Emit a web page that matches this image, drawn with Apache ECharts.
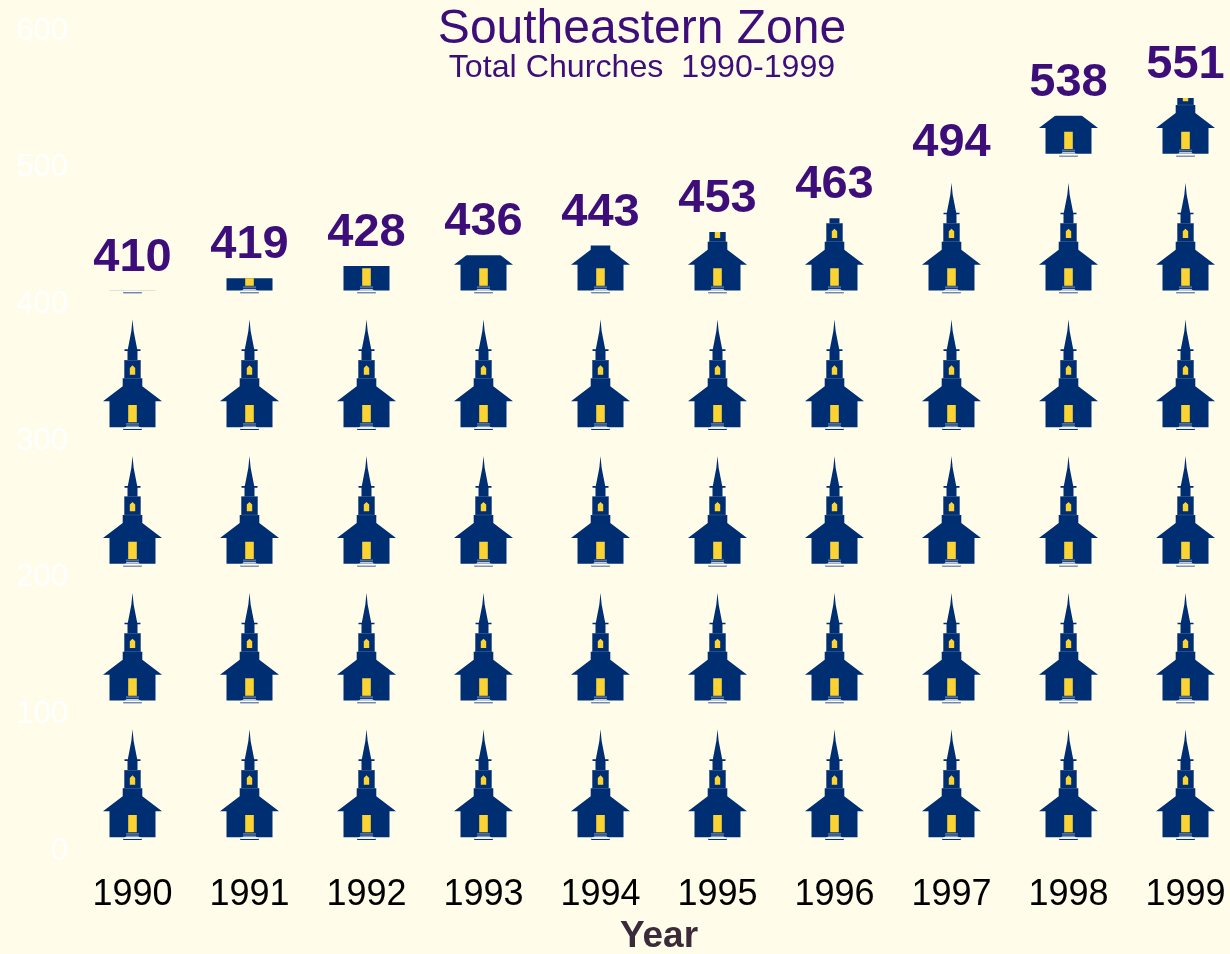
<!DOCTYPE html>
<html>
<head>
<meta charset="utf-8">
<style>html,body{margin:0;padding:0;background:#FFFDE9}#c{width:1230px;height:954px}</style>
<script src="https://cdn.jsdelivr.net/npm/echarts@6/dist/echarts.min.js"></script>
</head>
<body>
<div id="c"></div>
<script>
const years = ['1990','1991','1992','1993','1994','1995','1996','1997','1998','1999'];
const churches = [410,419,428,436,443,453,463,494,538,551];
const yTicksMax = 600;
const yTickStep = 100;

// One church occupies a 60 x 136.67 tile worth 100 churches; tiny corner marks pin the tile's bounds.
const TILE_W = 60, TILE_H = 136.67;
const corners = 'M0 0h0.01v0.01h-0.01zM' + (TILE_W-0.01) + ' ' + (TILE_H-0.01) + 'h0.01v0.01h-0.01z';
const bodyShape = 'path://' + corners +
  'M30 15L31.2 27L34.7 45L38 45L38 46.7L35 46.7L35 55.6L38.2 55.6L38.2 74L39.8 74L39.8 82L59.5 97L53 97L53 122.8' +
  'L7 122.8L7 97L0.5 97L20.2 82L20.2 74L21.8 74L21.8 55.6L25 55.6L25 46.7L22 46.7L22 45L25.3 45L28.8 27Z' +
  'M20.7 124.5h18.6v1.1h-18.6z';
const trimShape = 'path://' + corners +
  'M23.5 118.6h13v1.9h-13zM21.8 73.8h16.4v0.5h-16.4zM22 55.6h16v0.5h-16z';
const lightShape = 'path://' + corners +
  'M25.7 100.7h8.6v17.3h-8.6zM30 61L32.7 63.6L32.7 70.3L27.3 70.3L27.3 63.6Z';
const stepShape = 'path://' + corners +
  'M24 121.3h12l0.8 0.9h-13.6zM22.4 122.8h15.2l1.7 1.7h-18.6z';

function layer(shape, color, z) {
  return {
    type: 'pictorialBar',
    data: churches,
    symbol: shape,
    symbolSize: [TILE_W, TILE_H],
    symbolRepeat: true,
    symbolMargin: 0,
    symbolClip: true,
    symbolPosition: 'start',
    barGap: '-100%',
    z: z,
    silent: true,
    animation: false,
    itemStyle: { color: color }
  };
}

const chart = echarts.init(document.getElementById('c'), null, { renderer: 'canvas' });
chart.setOption({
  backgroundColor: '#FFFDE9',
  animation: false,
  title: [
    { text: 'Southeastern Zone', left: 637, top: 1, textAlign: 'center',
      textStyle: { color: '#3D0E7A', fontFamily: 'Liberation Sans', fontWeight: 'normal', fontSize: 48 } },
    { text: 'Total Churches  1990-1999', left: 637, top: 47, textAlign: 'center',
      textStyle: { color: '#3D0E7A', fontFamily: 'Liberation Sans', fontWeight: 'normal', fontSize: 32.2 } }
  ],
  grid: { left: 74, right: -14, top: 31, bottom: 103, containLabel: false, outerBoundsMode: 'none' },
  xAxis: {
    type: 'category', data: years,
    axisLine: { show: false }, axisTick: { show: false }, splitLine: { show: false },
    axisLabel: { color: '#000', fontFamily: 'Liberation Sans', fontSize: 36, margin: 26, interval: 0, hideOverlap: false },
    name: 'Year', nameLocation: 'middle', nameGap: 66,
    nameTextStyle: { color: '#3B2A3A', fontFamily: 'Liberation Sans', fontWeight: 'bold', fontSize: 37 }
  },
  yAxis: {
    type: 'value', min: 0, max: yTicksMax, interval: yTickStep,
    axisLine: { show: false }, axisTick: { show: false }, splitLine: { show: false },
    axisLabel: { color: '#FFFFFF', fontFamily: 'Liberation Sans', fontSize: 31, margin: 6 }
  },
  series: [
    layer(bodyShape, '#002E72', 2),
    layer(trimShape, '#4F6E9C', 3),
    layer(lightShape, '#FBD433', 4),
    layer(stepShape, '#FFFFFF', 5),
    {
      type: 'scatter', data: churches, symbolSize: 1, z: 6, silent: true,
      itemStyle: { color: 'rgba(0,0,0,0)', opacity: 1 },
      label: { show: true, position: 'top', distance: 9, color: '#3D0E7A', opacity: 1,
        fontFamily: 'Liberation Sans', fontWeight: 'bold', fontSize: 47 }
    }
  ]
});
</script>
</body>
</html>
